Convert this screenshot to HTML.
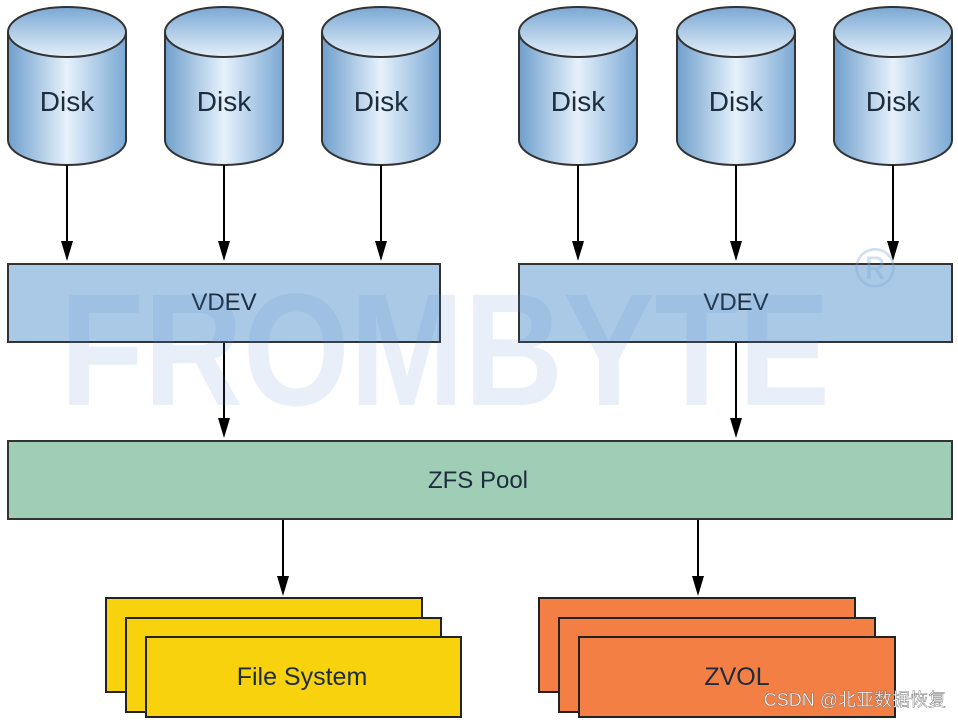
<!DOCTYPE html>
<html><head><meta charset="utf-8"><style>
html,body{margin:0;padding:0;background:#fff;}
svg{display:block;}
</style></head><body>
<svg width="958" height="720" viewBox="0 0 958 720" xmlns="http://www.w3.org/2000/svg">
<defs>
<linearGradient id="body" x1="0" x2="1" y1="0" y2="0">
<stop offset="0" stop-color="#6f9fcc"/><stop offset="0.5" stop-color="#e6f1fb"/><stop offset="1" stop-color="#7aa8d4"/>
</linearGradient>
<linearGradient id="top" x1="0" x2="0" y1="0" y2="1">
<stop offset="0" stop-color="#7aa8d4"/><stop offset="1" stop-color="#e4eff9"/>
</linearGradient>
</defs>
<g font-family="Liberation Sans, sans-serif" font-size="26" fill="#1d2d3d">
<g stroke="#333" stroke-width="2">
<path d="M8,32 L8,140 A59,25 0 0 0 126,140 L126,32" fill="url(#body)"/><ellipse cx="67" cy="32" rx="59" ry="25" fill="url(#top)"/>
<path d="M165,32 L165,140 A59,25 0 0 0 283,140 L283,32" fill="url(#body)"/><ellipse cx="224" cy="32" rx="59" ry="25" fill="url(#top)"/>
<path d="M322,32 L322,140 A59,25 0 0 0 440,140 L440,32" fill="url(#body)"/><ellipse cx="381" cy="32" rx="59" ry="25" fill="url(#top)"/>
<path d="M519,32 L519,140 A59,25 0 0 0 637,140 L637,32" fill="url(#body)"/><ellipse cx="578" cy="32" rx="59" ry="25" fill="url(#top)"/>
<path d="M677,32 L677,140 A59,25 0 0 0 795,140 L795,32" fill="url(#body)"/><ellipse cx="736" cy="32" rx="59" ry="25" fill="url(#top)"/>
<path d="M834,32 L834,140 A59,25 0 0 0 952,140 L952,32" fill="url(#body)"/><ellipse cx="893" cy="32" rx="59" ry="25" fill="url(#top)"/>
</g>
<g text-anchor="middle" font-size="28">
<text x="67" y="111">Disk</text><text x="224" y="111">Disk</text><text x="381" y="111">Disk</text>
<text x="578" y="111">Disk</text><text x="736" y="111">Disk</text><text x="893" y="111">Disk</text>
</g>
<g stroke="#000" stroke-width="2">
<line x1="67" y1="165" x2="67" y2="250"/><line x1="224" y1="165" x2="224" y2="250"/><line x1="381" y1="165" x2="381" y2="250"/>
<line x1="578" y1="165" x2="578" y2="250"/><line x1="736" y1="165" x2="736" y2="250"/><line x1="893" y1="165" x2="893" y2="250"/>
<line x1="224" y1="342" x2="224" y2="427"/><line x1="736" y1="342" x2="736" y2="427"/>
<line x1="283" y1="519" x2="283" y2="585"/><line x1="698" y1="519" x2="698" y2="585"/>
</g>
<g fill="#000">
<path d="M61,241h12l-6,20z"/><path d="M218,241h12l-6,20z"/><path d="M375,241h12l-6,20z"/>
<path d="M572,241h12l-6,20z"/><path d="M730,241h12l-6,20z"/><path d="M887,241h12l-6,20z"/>
<path d="M218,418h12l-6,20z"/><path d="M730,418h12l-6,20z"/>
<path d="M277,576h12l-6,20z"/><path d="M692,576h12l-6,20z"/>
</g>
<rect x="8" y="264" width="432" height="78" fill="#a9c9e7" stroke="#333" stroke-width="2"/>
<rect x="519" y="264" width="433" height="78" fill="#a9c9e7" stroke="#333" stroke-width="2"/>
<rect x="8" y="441" width="944" height="78" fill="#a0cdb5" stroke="#333" stroke-width="2"/>
<g font-size="24" text-anchor="middle">
<text x="224" y="310">VDEV</text><text x="736" y="310">VDEV</text>
<text x="478" y="488">ZFS Pool</text>
</g>
<text x="60" y="405" font-size="160" font-weight="bold" fill="#5b8ccc" fill-opacity="0.14" textLength="770" lengthAdjust="spacingAndGlyphs">FROMBYTE</text>
<text x="875" y="287" font-size="56" fill="#7fa4cf" fill-opacity="0.35" text-anchor="middle">®</text>
<g stroke="#222" stroke-width="2" fill="#f8d20c">
<rect x="106" y="598" width="316" height="94"/><rect x="126" y="618" width="315" height="94"/><rect x="146" y="637" width="315" height="80"/>
</g>
<g stroke="#222" stroke-width="2" fill="#f37f45">
<rect x="539" y="598" width="316" height="94"/><rect x="559" y="618" width="316" height="94"/><rect x="579" y="637" width="316" height="80"/>
</g>
<g font-size="25" text-anchor="middle">
<text x="302" y="685">File System</text><text x="737" y="685">ZVOL</text>
</g>
<text x="946" y="706" font-size="18" fill="#fff" stroke="#666" stroke-width="0.4" text-anchor="end" font-family="Liberation Sans, Noto Sans CJK SC, sans-serif">CSDN @北亚数据恢复</text>
</g>
</svg>
</body></html>
